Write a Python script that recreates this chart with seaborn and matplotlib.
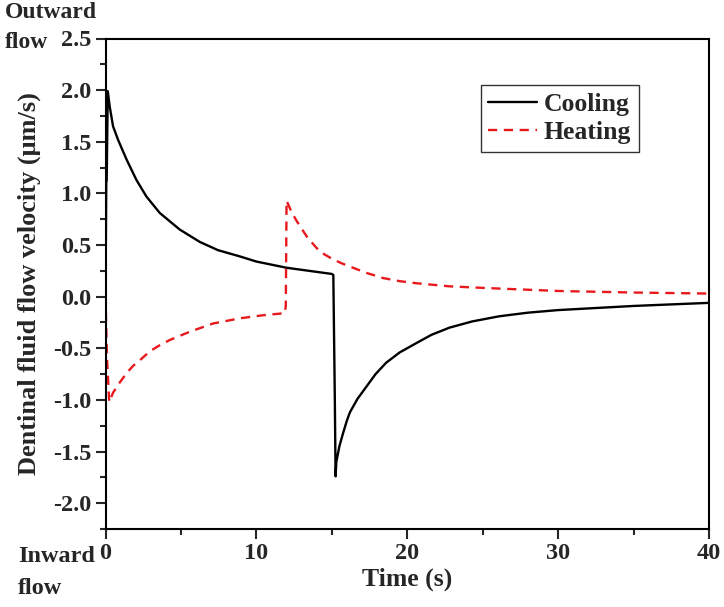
import numpy as np
import pandas as pd
import matplotlib
matplotlib.use("Agg")
import matplotlib.pyplot as plt
import seaborn as sns
from matplotlib.ticker import MultipleLocator

# ---- data ----
cool_t = [0, 0.05, 0.08, 0.15, 0.28, 0.5, 0.83, 1.39, 2.05, 2.71, 3.6, 4.92, 6.25,
          7.46, 8.9, 10.0, 11.0, 12.0, 13.0, 14.0, 15.0, 15.1,
          15.2, 15.25, 15.3, 15.5, 15.75, 16.0, 16.2, 16.7, 17.3, 17.9, 18.6, 19.5,
          20.6, 21.6, 22.8, 24.3, 26.1, 28.0, 30.0, 32.5, 35.0, 37.5, 40.0]
cool_v = [0, 1.1, 1.13, 1.99, 1.84, 1.65, 1.52, 1.33, 1.13, 0.97, 0.81, 0.65, 0.53,
          0.45, 0.39, 0.34, 0.31, 0.28, 0.26, 0.24, 0.22,
          0.21, -1.0, -1.74, -1.6, -1.45, -1.32, -1.2, -1.12, -0.99, -0.87, -0.75,
          -0.64, -0.54, -0.45, -0.37, -0.30, -0.24, -0.19, -0.155, -0.13, -0.11,
          -0.09, -0.075, -0.06]

heat_t = [0, 0.1, 0.25, 0.5, 0.95, 1.4, 1.83, 2.4, 2.93, 3.6, 4.26, 5.58, 7.13, 8.9,
          10.44, 11.88, 11.95, 12.0, 12.3, 12.6, 12.9, 13.4, 14.0, 14.5, 15.1, 15.7,
          16.4, 17.3, 18.4, 19.5, 20.6, 22.8, 25.0, 27.5, 30.0, 35.0, 40.0]
heat_v = [0, -0.6, -1.02, -0.93, -0.83, -0.74, -0.67, -0.6, -0.53, -0.47, -0.42,
          -0.34, -0.26, -0.21, -0.18, -0.16, -0.09, 0.93, 0.83, 0.75, 0.68, 0.57,
          0.47, 0.41, 0.36, 0.32, 0.28, 0.23, 0.18, 0.15, 0.13, 0.10, 0.085, 0.07,
          0.055, 0.04, 0.03]

x_ticks = [0, 10, 20, 30, 40]
y_ticks = [-2.0, -1.5, -1.0, -0.5, 0.0, 0.5, 1.0, 1.5, 2.0, 2.5]

df = pd.concat([
    pd.DataFrame({"Time": cool_t, "Velocity": cool_v, "Series": "Cooling"}),
    pd.DataFrame({"Time": heat_t, "Velocity": heat_v, "Series": "Heating"}),
], ignore_index=True)

sns.set_style("ticks")
plt.rcParams["font.family"] = ["Liberation Serif", "DejaVu Serif"]
plt.rcParams["font.weight"] = "bold"
plt.rcParams["mathtext.default"] = "regular"

fig = plt.figure(figsize=(7.24, 6.07), dpi=100)
ax = fig.add_axes([105.5 / 724, 1 - 529 / 607, (709 - 105.5) / 724, (529 - 38.5) / 607])

sns.lineplot(data=df, x="Time", y="Velocity", hue="Series", style="Series",
             palette={"Cooling": "black", "Heating": "#e8191c"},
             dashes={"Cooling": "", "Heating": (3.9, 2.8)},
             linewidth=1.7, sort=False, estimator=None, ax=ax)

ax.set_xlim(0, 40)
ax.set_ylim(-2.25, 2.5)
ax.set_xticks(x_ticks)
ax.set_xticklabels([str(v) for v in x_ticks])
ax.set_yticks(y_ticks)
ax.set_yticklabels([f"{v:.1f}" for v in y_ticks])
ax.xaxis.set_minor_locator(MultipleLocator(5))
ax.yaxis.set_minor_locator(MultipleLocator(0.25))
ax.tick_params(axis="both", which="major", direction="out", length=7, width=1.5,
               labelsize=17.5, pad=3)
ax.tick_params(axis="both", which="minor", direction="out", length=4, width=1.5)
ax.tick_params(top=False, right=False, which="both")
for s in ax.spines.values():
    s.set_visible(True)
    s.set_linewidth(1.5)
    s.set_color("black")

ax.set_xlabel("Time (s)", fontsize=18.5, fontweight="bold", labelpad=3)
ax.set_ylabel("Dentinal fluid flow velocity (μm/s)", fontsize=19, fontweight="bold",
              labelpad=9)

leg = ax.legend(loc="upper left", bbox_to_anchor=((480.7 - 105.5) / 603.5, 1 - (85 - 38.5) / 490.5),
                fontsize=18.5, frameon=True, fancybox=False, edgecolor="black",
                handlelength=1.9, handletextpad=0.25, borderpad=0.3, labelspacing=0.2,
                borderaxespad=0)
leg.get_frame().set_linewidth(1.0)
for t in leg.get_texts():
    t.set_fontweight("bold")

fig.text(5 / 724, 1 - 13 / 607, "Outward", fontsize=17, fontweight="bold", va="center", ha="left")
fig.text(5 / 724, 1 - 43 / 607, "flow", fontsize=17, fontweight="bold", va="center", ha="left")
fig.text(18 / 724, 1 - 557 / 607, "Inward", fontsize=17.5, fontweight="bold", va="center", ha="left")
fig.text(18 / 724, 1 - 588 / 607, "flow", fontsize=17.5, fontweight="bold", va="center", ha="left")

fig.savefig("out.png", dpi=100)
